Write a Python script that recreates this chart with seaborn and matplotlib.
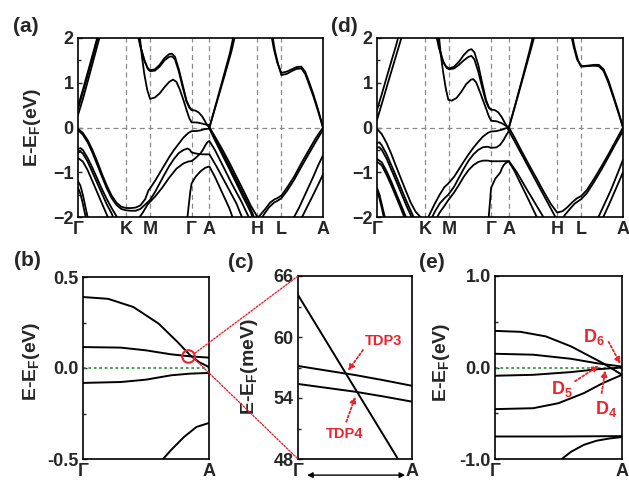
import numpy as np
import pandas as pd
import matplotlib
matplotlib.use("Agg")
import matplotlib.pyplot as plt
import seaborn as sns
from matplotlib.patches import ConnectionPatch

# ---------------- data ----------------
KPATH_LABELS = ["Γ", "K", "M", "Γ", "A", "H", "L", "A"]
KPATH_POS = [0.0, 1.0, 1.5, 2.366, 2.736, 3.736, 4.236, 5.102]
GA_START, GA_END = 2.366, 2.736

# panel (b): Gamma-A zoom (fraction along Gamma->A, eV)
b1_t = [0, 0.2, 0.4, 0.6, 0.75, 0.85, 0.92, 1.0]
b1_E = [0.39, 0.38, 0.335, 0.244, 0.143, 0.07, 0.033, 0.005]
b2_t = [0, 0.3, 0.5, 0.7, 0.85, 1.0]
b2_E = [0.115, 0.112, 0.097, 0.075, 0.064, 0.057]
b3_t = [0, 0.3, 0.5, 0.7, 0.85, 1.0]
b3_E = [-0.082, -0.077, -0.064, -0.04, -0.031, -0.027]
b4_t = [0.6, 0.635, 0.7, 0.8, 0.9, 1.0]
b4_E = [-0.54, -0.5, -0.45, -0.38, -0.324, -0.302]
CIRCLE_T, CIRCLE_E = 0.833, 0.066

# panel (c): meV
c1_t = [0, 0.877, 0.95]
c1_E = [64.13, 48.0, 46.7]
c2_t = [0, 0.25, 0.5, 0.75, 1.0]
c2_E = [57.15, 56.7, 56.26, 55.75, 55.2]
c3_t = [0, 0.25, 0.5, 0.75, 1.0]
c3_E = [55.38, 55.0, 54.62, 54.15, 53.64]

# panel (e): Gamma-A zoom of (d)
e1_t = [0, 0.2, 0.4, 0.6, 0.75, 0.85, 0.93, 1.0]
e1_E = [0.40, 0.39, 0.34, 0.23, 0.12, 0.047, -0.02, -0.08]
e2_t = [0, 0.3, 0.6, 0.8, 1.0]
e2_E = [0.15, 0.14, 0.095, 0.047, 0.01]
e3_t = [0, 0.3, 0.6, 0.8, 1.0]
e3_E = [-0.09, -0.08, -0.05, -0.02, 0.0]
e4_t = [0, 0.3, 0.5, 0.7, 0.85, 1.0]
e4_E = [-0.455, -0.445, -0.39, -0.28, -0.17, -0.08]
e5_t = [0, 0.5, 1.0]
e5_E = [-0.754, -0.754, -0.75]
e6_t = [0.5, 0.526, 0.6, 0.7, 0.8, 0.9, 1.0]
e6_E = [-1.05, -1.0, -0.92, -0.845, -0.8, -0.776, -0.76]


def ga(t, E):
    return [(GA_START + ti * (GA_END - GA_START), Ei) for ti, Ei in zip(t, E)]


# panel (a) bands (k, eV)
a_c1 = [(0, 0.42), (0.1, 0.78), (0.2, 1.16), (0.3, 1.55), (0.4, 1.95), (0.43, 2.1)]
a_c2 = [(0, 0.28), (0.1, 0.63), (0.2, 1.02), (0.3, 1.42), (0.4, 1.82), (0.47, 2.1)]
a_c3 = [(0, 0.47), (0.1, 0.84), (0.2, 1.22), (0.3, 1.61), (0.4, 2.0), (0.42, 2.1)]
a_c4 = [(1.24, 2.1), (1.3, 1.8), (1.38, 1.5), (1.45, 1.33), (1.5, 1.28), (1.6, 1.3),
        (1.7, 1.4), (1.8, 1.55), (1.9, 1.64), (1.96, 1.65), (2.02, 1.58), (2.1, 1.3),
        (2.18, 0.95), (2.26, 0.6), (2.32, 0.46)] + ga(b1_t, b1_E)
a_c5 = [(1.25, 2.1), (1.31, 1.78), (1.39, 1.48), (1.46, 1.3), (1.5, 1.26), (1.6, 1.27),
        (1.7, 1.36), (1.8, 1.5), (1.9, 1.58), (1.96, 1.59), (2.02, 1.52), (2.1, 1.25),
        (2.18, 0.9), (2.26, 0.58), (2.32, 0.44), (2.366, 0.39)]
a_c6 = [(1.28, 2.1), (1.33, 1.6), (1.38, 1.2), (1.44, 0.85), (1.5, 0.64), (1.6, 0.67),
        (1.7, 0.76), (1.8, 0.9), (1.9, 1.02), (1.98, 1.07), (2.05, 1.02), (2.12, 0.85),
        (2.2, 0.6), (2.27, 0.36), (2.32, 0.2)] + ga(b2_t, b2_E)
a_c7 = [(2.736, 0.0), (2.9, 0.6), (3.05, 1.15), (3.2, 1.72), (3.28, 2.1)]
a_c8 = [(2.736, 0.0), (2.88, 0.55), (3.02, 1.1), (3.16, 1.65), (3.25, 2.1)]
a_c9 = [(4.02, 2.1), (4.08, 1.75), (4.15, 1.45), (4.236, 1.22), (4.35, 1.25), (4.45, 1.3),
        (4.55, 1.35), (4.65, 1.36), (4.73, 1.25), (4.8, 1.05), (4.9, 0.75), (5.0, 0.4),
        (5.102, 0.0)]
a_c10 = [(4.04, 2.1), (4.1, 1.72), (4.17, 1.4), (4.236, 1.17), (4.35, 1.2), (4.45, 1.26),
         (4.55, 1.31), (4.65, 1.32), (4.73, 1.2), (4.8, 1.0), (4.9, 0.7), (5.0, 0.36),
         (5.102, 0.0)]
a_v1 = [(0, -0.03), (0.1, -0.12), (0.2, -0.28), (0.3, -0.5), (0.4, -0.76), (0.5, -1.04),
        (0.6, -1.3), (0.7, -1.52), (0.8, -1.68), (0.9, -1.77), (1.0, -1.8), (1.1, -1.8),
        (1.2, -1.79), (1.3, -1.74), (1.4, -1.6), (1.47, -1.4), (1.5, -1.36), (1.6, -1.2),
        (1.7, -1.02), (1.8, -0.84), (1.9, -0.66), (2.0, -0.5), (2.1, -0.36), (2.2, -0.22),
        (2.3, -0.12)] + ga(b3_t, b3_E) + [
        (2.85, -0.28), (3.0, -0.6), (3.15, -0.92), (3.3, -1.25), (3.45, -1.58),
        (3.6, -1.9), (3.66, -2.1)]
a_v2 = [(0, -0.06), (0.1, -0.16), (0.2, -0.33), (0.3, -0.56), (0.4, -0.83), (0.5, -1.1),
        (0.6, -1.36), (0.7, -1.58), (0.8, -1.73), (0.9, -1.82), (1.0, -1.85), (1.1, -1.86),
        (1.2, -1.86), (1.3, -1.82), (1.4, -1.72), (1.5, -1.62), (1.6, -1.45), (1.7, -1.25),
        (1.8, -1.05), (1.9, -0.86), (2.0, -0.7), (2.1, -0.57), (2.2, -0.5), (2.28, -0.47),
        (2.33, -0.5), (2.366, -0.56), (2.5, -0.59), (2.6, -0.6), (2.736, -0.6), (2.9, -0.9),
        (3.1, -1.3), (3.3, -1.7), (3.45, -2.1)]
a_v3 = [(1.22, -2.1), (1.35, -1.9), (1.45, -1.72), (1.5, -1.66), (1.6, -1.55), (1.75, -1.35),
        (1.9, -1.12), (2.05, -0.92), (2.2, -0.8), (2.3, -0.76), (2.366, -0.75), (2.45, -0.68),
        (2.55, -0.58)] + ga(b4_t[1:], b4_E[1:]) + [
        (2.85, -0.5), (3.0, -0.82), (3.2, -1.25), (3.4, -1.65), (3.6, -2.1)]
a_v4 = [(2.27, -2.1), (2.31, -1.7), (2.34, -1.42), (2.366, -1.25), (2.45, -1.1), (2.55, -0.98),
        (2.65, -0.9), (2.736, -0.87), (2.85, -1.1), (3.0, -1.45), (3.15, -1.8), (3.25, -2.1)]
a_v5 = [(2.736, 0.0), (2.85, -0.2), (3.0, -0.48), (3.15, -0.78), (3.3, -1.1), (3.45, -1.42),
        (3.6, -1.75), (3.736, -2.0), (3.76, -2.1)]
a_v6 = [(2.736, 0.0), (2.85, -0.24), (3.0, -0.55), (3.15, -0.86), (3.3, -1.18), (3.45, -1.5),
        (3.6, -1.83), (3.7, -2.1)]
a_v8 = [(3.736, -2.02), (3.8, -1.95), (3.9, -1.82), (4.0, -1.68), (4.1, -1.6), (4.15, -1.58),
        (4.236, -1.52), (4.35, -1.35), (4.5, -1.1), (4.65, -0.8), (4.8, -0.52), (4.95, -0.24),
        (5.102, 0.0)]
a_v9 = [(3.78, -2.1), (3.88, -1.93), (3.98, -1.78), (4.08, -1.68), (4.15, -1.64), (4.236, -1.58),
        (4.35, -1.42), (4.5, -1.17), (4.65, -0.88), (4.8, -0.6), (4.95, -0.32), (5.102, -0.05)]
a_v10 = [(4.45, -2.1), (4.6, -1.8), (4.75, -1.45), (4.9, -1.1), (5.0, -0.85), (5.102, -0.62)]
a_v11 = [(4.62, -2.1), (4.75, -1.82), (4.9, -1.5), (5.0, -1.28), (5.102, -1.05)]
a_v12 = [(0, -0.48), (0.05, -0.46), (0.1, -0.5), (0.2, -0.68), (0.3, -0.9), (0.4, -1.14),
         (0.5, -1.38), (0.6, -1.6), (0.7, -1.8), (0.8, -1.98), (0.85, -2.1)]
a_v13 = [(0, -0.56), (0.05, -0.54), (0.1, -0.58), (0.2, -0.76), (0.3, -1.0), (0.4, -1.24),
         (0.5, -1.48), (0.6, -1.72), (0.7, -1.92), (0.77, -2.1)]
a_v14 = [(0, -0.68), (0.1, -0.76), (0.2, -0.95), (0.3, -1.2), (0.4, -1.45), (0.5, -1.7),
         (0.6, -1.95), (0.66, -2.1)]
a_v15 = [(0, -1.2), (0.05, -1.3), (0.1, -1.5), (0.15, -1.75), (0.2, -2.0), (0.22, -2.1)]
a_v16 = [(0, -1.35), (0.05, -1.48), (0.1, -1.7), (0.15, -1.95), (0.17, -2.1)]

# panel (d) bands
d_c1 = [(0, 0.39), (0.1, 0.75), (0.2, 1.12), (0.3, 1.49), (0.4, 1.85), (0.46, 2.1)]
d_c2 = [(0, 0.17), (0.1, 0.53), (0.2, 0.9), (0.3, 1.26), (0.4, 1.62), (0.5, 1.98), (0.53, 2.1)]
d_c4 = [(1.22, 2.1), (1.28, 1.8), (1.36, 1.5), (1.43, 1.36), (1.5, 1.32), (1.6, 1.36),
        (1.7, 1.47), (1.8, 1.62), (1.9, 1.73), (1.96, 1.75), (2.02, 1.68), (2.1, 1.4),
        (2.18, 1.0), (2.26, 0.62), (2.32, 0.45)] + ga(e1_t, e1_E)
d_c5 = [(1.24, 2.1), (1.3, 1.75), (1.38, 1.45), (1.45, 1.33), (1.5, 1.3), (1.6, 1.32),
        (1.7, 1.4), (1.8, 1.5), (1.9, 1.58), (1.96, 1.6), (2.02, 1.52), (2.1, 1.25),
        (2.18, 0.9), (2.26, 0.58), (2.32, 0.44), (2.366, 0.4)]
d_c6 = [(1.28, 2.1), (1.32, 1.65), (1.37, 1.25), (1.43, 0.85), (1.48, 0.62), (1.55, 0.6),
        (1.65, 0.66), (1.75, 0.8), (1.85, 0.97), (1.95, 1.07), (2.0, 1.08), (2.06, 1.0),
        (2.14, 0.78), (2.2, 0.6), (2.27, 0.4), (2.32, 0.25)] + ga(e2_t, e2_E)
d_c7 = [(2.736, 0.0), (2.9, 0.62), (3.05, 1.2), (3.2, 1.78), (3.28, 2.1)]
d_c8 = [(2.736, 0.0), (2.88, 0.56), (3.02, 1.12), (3.16, 1.7), (3.25, 2.1)]
d_c9 = [(4.02, 2.1), (4.08, 1.8), (4.15, 1.52), (4.236, 1.37), (4.35, 1.38), (4.5, 1.4),
        (4.6, 1.4), (4.7, 1.3), (4.8, 1.05), (4.9, 0.72), (5.0, 0.38), (5.102, 0.0)]
d_c10 = [(4.04, 2.1), (4.1, 1.78), (4.17, 1.5), (4.236, 1.36), (4.35, 1.37), (4.5, 1.38),
         (4.6, 1.37), (4.7, 1.26), (4.8, 1.0), (4.9, 0.68), (5.0, 0.35), (5.102, 0.0)]
d_v1 = [(0, -0.03), (0.1, -0.15), (0.2, -0.35), (0.3, -0.6), (0.4, -0.88), (0.5, -1.15),
        (0.6, -1.42), (0.7, -1.68), (0.8, -1.88), (0.9, -2.0), (0.95, -2.1)]
d_v2 = [(0, -0.35), (0.05, -0.33), (0.1, -0.4), (0.2, -0.6), (0.3, -0.85), (0.4, -1.1),
        (0.5, -1.36), (0.6, -1.62), (0.7, -1.86), (0.8, -2.1)]
d_v3 = [(0, -0.45), (0.05, -0.44), (0.1, -0.5), (0.2, -0.7), (0.3, -0.95), (0.4, -1.2),
        (0.5, -1.46), (0.6, -1.72), (0.7, -1.96), (0.75, -2.1)]
d_v4 = [(0, -0.7), (0.1, -0.78), (0.2, -0.98), (0.3, -1.22), (0.4, -1.48), (0.5, -1.74),
        (0.6, -2.0), (0.64, -2.1)]
d_v5 = [(0, -0.76), (0.1, -0.85), (0.2, -1.06), (0.3, -1.3), (0.4, -1.56), (0.5, -1.82),
        (0.6, -2.1)]
d_v6 = [(0, -1.35), (0.05, -1.5), (0.1, -1.72), (0.15, -1.95), (0.18, -2.1)]
d_v7 = [(0, -1.42), (0.05, -1.58), (0.1, -1.8), (0.14, -2.0), (0.16, -2.1)]
d_v8 = [(1.02, -2.1), (1.1, -1.92), (1.2, -1.7), (1.3, -1.5), (1.4, -1.33), (1.48, -1.25),
        (1.6, -1.1), (1.7, -0.93), (1.8, -0.76), (1.9, -0.6), (2.0, -0.45), (2.1, -0.32),
        (2.2, -0.2), (2.3, -0.12)] + ga(e3_t, e3_E)
d_v9 = [(1.1, -2.1), (1.2, -1.88), (1.3, -1.7), (1.4, -1.58), (1.48, -1.5), (1.6, -1.32),
        (1.7, -1.12), (1.8, -0.92), (1.9, -0.74), (2.0, -0.6), (2.1, -0.5), (2.2, -0.44),
        (2.3, -0.43)] + ga(e4_t, e4_E)
d_v10 = [(1.2, -2.1), (1.3, -1.9), (1.4, -1.75), (1.48, -1.62), (1.6, -1.45), (1.7, -1.28),
         (1.8, -1.1), (1.9, -0.95), (2.0, -0.84), (2.1, -0.77), (2.2, -0.74), (2.3, -0.74)] + \
    ga(e5_t, e5_E) + [(2.9, -1.0), (3.1, -1.37), (3.3, -1.73), (3.45, -2.0), (3.5, -2.1)]
d_v11 = [(2.31, -2.1), (2.34, -1.7), (2.366, -1.35), (2.45, -1.15)] + ga(e6_t[1:], e6_E[1:]) + [
    (2.85, -0.97), (3.0, -1.3), (3.15, -1.63), (3.3, -1.97), (3.36, -2.1)]
d_v12 = [(2.736, 0.0), (2.85, -0.22), (3.0, -0.53), (3.15, -0.83), (3.3, -1.12), (3.45, -1.42),
         (3.6, -1.7), (3.736, -1.9), (3.85, -1.87), (3.95, -1.78), (4.05, -1.67), (4.15, -1.58),
         (4.236, -1.53), (4.35, -1.4), (4.5, -1.15), (4.65, -0.88), (4.8, -0.6), (4.95, -0.3),
         (5.102, 0.0)]
d_v13 = [(2.736, -0.08), (2.85, -0.3), (3.0, -0.6), (3.15, -0.9), (3.3, -1.2), (3.45, -1.5),
         (3.6, -1.8), (3.7, -2.0), (3.75, -2.1)]
d_v14 = [(3.8, -2.1), (3.9, -1.95), (4.0, -1.82), (4.1, -1.7), (4.236, -1.6), (4.35, -1.47),
         (4.5, -1.22), (4.65, -0.95), (4.8, -0.66), (4.95, -0.36), (5.102, -0.08)]
d_v15 = [(4.55, -2.1), (4.7, -1.75), (4.85, -1.4), (5.0, -1.0), (5.102, -0.72)]
d_v16 = [(4.65, -2.1), (4.8, -1.75), (4.95, -1.38), (5.102, -1.0)]

A_BANDS = [a_c1, a_c2, a_c3, a_c4, a_c5, a_c6, a_c7, a_c8, a_c9, a_c10,
           a_v1, a_v2, a_v3, a_v4, a_v5, a_v6, a_v8, a_v9, a_v10, a_v11,
           a_v12, a_v13, a_v14, a_v15, a_v16]
D_BANDS = [d_c1, d_c2, d_c4, d_c5, d_c6, d_c7, d_c8, d_c9, d_c10,
           d_v1, d_v2, d_v3, d_v4, d_v5, d_v6, d_v7, d_v8, d_v9, d_v10, d_v11,
           d_v12, d_v13, d_v14, d_v15, d_v16]
B_BANDS = [list(zip(b1_t, b1_E)), list(zip(b2_t, b2_E)), list(zip(b3_t, b3_E)), list(zip(b4_t, b4_E))]
C_BANDS = [list(zip(c1_t, c1_E)), list(zip(c2_t, c2_E)), list(zip(c3_t, c3_E))]
E_BANDS = [list(zip(e1_t, e1_E)), list(zip(e2_t, e2_E)), list(zip(e3_t, e3_E)),
           list(zip(e4_t, e4_E)), list(zip(e5_t, e5_E)), list(zip(e6_t, e6_E))]

RED = "#e8242c"
GREEN = "#3a9a3a"
GRAY = "#8a8a8a"

# ---------------- style ----------------
sns.set_style("ticks")
plt.rcParams["font.family"] = ["Liberation Sans", "DejaVu Sans"]
plt.rcParams["font.weight"] = "bold"
plt.rcParams["mathtext.fontset"] = "custom"
plt.rcParams["mathtext.rm"] = "Liberation Sans:bold"
plt.rcParams["mathtext.bf"] = "Liberation Sans:bold"
plt.rcParams["mathtext.it"] = "Liberation Sans:bold"
plt.rcParams["axes.linewidth"] = 1.2

W, H = 629, 484
fig = plt.figure(figsize=(W / 100, H / 100), dpi=100)


def box(l, r, t, b):
    return [l / W, 1 - b / H, (r - l) / W, (b - t) / H]


ax_a = fig.add_axes(box(78, 323, 38, 217))
ax_d = fig.add_axes(box(377, 623, 38, 217))
ax_b = fig.add_axes(box(83, 209, 277, 459))
ax_c = fig.add_axes(box(298, 412, 276, 459))
ax_e = fig.add_axes(box(495, 622, 276, 459))


def frame(bands):
    rows = []
    for i, pts in enumerate(bands):
        for x, y in pts:
            rows.append({"band": i, "x": x, "y": y})
    return pd.DataFrame(rows)


def draw(ax, bands, lw):
    sns.lineplot(data=frame(bands), x="x", y="y", units="band", estimator=None,
                 sort=False, color="black", lw=lw, ax=ax, legend=False, zorder=3)
    ax.set_xlabel("")
    ax.set_ylabel("")


TICK_FS = 13
for ax, bands in [(ax_a, A_BANDS), (ax_d, D_BANDS)]:
    for p in KPATH_POS[1:-1]:
        ax.axvline(p, color=GRAY, ls=(0, (4, 3)), lw=0.9, zorder=1)
    ax.axhline(0, color=GRAY, ls=(0, (4, 3)), lw=0.9, zorder=1)
    draw(ax, bands, 1.3)
    ax.set_xlim(KPATH_POS[0], KPATH_POS[-1])
    ax.set_ylim(-2, 2)
    ax.set_xticks(KPATH_POS)
    ax.set_xticklabels(KPATH_LABELS)
    ax.set_yticks([-2, -1, 0, 1, 2])
    ax.set_yticks([-1.5, -0.5, 0.5, 1.5], minor=True)

ax_a.set_ylabel("E-E$_\\mathbf{F}$(eV)", fontsize=14, fontweight="bold")
ax_a.yaxis.set_label_coords(-0.142, 0.503)

# (b)
ax_b.axhline(0, color=GREEN, ls=(0, (1.5, 1.5)), lw=1.3, zorder=2)
draw(ax_b, B_BANDS, 1.4)
ax_b.plot([CIRCLE_T], [CIRCLE_E], marker="o", ms=9, mfc="none", mec=RED, mew=1.5, zorder=4)
ax_b.set_xlim(0, 1)
ax_b.set_ylim(-0.5, 0.5)
ax_b.set_xticks([0, 1])
ax_b.set_xticklabels(["Γ", "A"])
ax_b.set_yticks([-0.5, 0.0, 0.5])
ax_b.set_yticklabels(["-0.5", "0.0", "0.5"])
ax_b.set_yticks([-0.25, 0.25], minor=True)
ax_b.set_ylabel("E-E$_\\mathbf{F}$(eV)", fontsize=14, fontweight="bold")
ax_b.yaxis.set_label_coords(-0.325, 0.538)

# (c)
draw(ax_c, C_BANDS, 1.4)
ax_c.set_xlim(0, 1)
ax_c.set_ylim(48, 66)
ax_c.set_xticks([0, 1])
ax_c.set_xticklabels(["Γ", "A"])
ax_c.set_yticks([48, 54, 60, 66])
ax_c.set_yticks([51, 57, 63], minor=True)
ax_c.set_ylabel("E-E$_\\mathbf{F}$(meV)", fontsize=14, fontweight="bold")
ax_c.yaxis.set_label_coords(-0.333, 0.503)
ax_c.annotate("", xy=(0.94, -0.088), xytext=(0.08, -0.088), xycoords="axes fraction",
              arrowprops=dict(arrowstyle="<|-|>", color="black", lw=1.0, mutation_scale=8,
                              shrinkA=0, shrinkB=0), annotation_clip=False)
arrow_kw = dict(arrowstyle="-|>", color=RED, lw=1.3, ls=(0, (1.2, 1.2)), mutation_scale=9,
                shrinkA=0, shrinkB=0)
ax_c.annotate("TDP3", xy=(0.439, 56.69), xytext=(0.75, 59.6), color=RED, fontsize=10.5,
              fontweight="bold", ha="center", va="center")
ax_c.annotate("", xy=(0.439, 56.69), xytext=(0.57, 58.72), arrowprops=arrow_kw)
ax_c.annotate("TDP4", xy=(0.503, 54.13), xytext=(0.41, 50.5), color=RED, fontsize=10.5,
              fontweight="bold", ha="center", va="center")
ax_c.annotate("", xy=(0.503, 54.13), xytext=(0.424, 51.67), arrowprops=arrow_kw)

# (e)
ax_e.axhline(0, color=GREEN, ls=(0, (1.5, 1.5)), lw=1.3, zorder=2)
draw(ax_e, E_BANDS, 1.4)
ax_e.set_xlim(0, 1)
ax_e.set_ylim(-1, 1)
ax_e.set_xticks([0, 1])
ax_e.set_xticklabels(["Γ", "A"])
ax_e.set_yticks([-1, 0, 1])
ax_e.set_yticklabels(["-1.0", "0.0", "1.0"])
ax_e.set_yticks([-0.5, 0.5], minor=True)
ax_e.set_ylabel("E-E$_\\mathbf{F}$(eV)", fontsize=14, fontweight="bold")
ax_e.yaxis.set_label_coords(-0.339, 0.53)
for label, txt_pos, start, end in [
    ("$\\mathbf{D_6}$", (0.78, 0.33), (0.895, 0.28), (0.987, 0.04)),
    ("$\\mathbf{D_5}$", (0.53, -0.233), (0.63, -0.15), (0.816, 0.018)),
    ("$\\mathbf{D_4}$", (0.874, -0.45), (0.84, -0.28), (0.868, -0.03)),
]:
    ax_e.text(txt_pos[0], txt_pos[1], label, color=RED, fontsize=13, ha="center", va="center")
    ax_e.annotate("", xy=end, xytext=start, arrowprops=arrow_kw)

# common tick styling
for ax in [ax_a, ax_d, ax_b, ax_c, ax_e]:
    ax.tick_params(axis="x", length=0, pad=3, labelsize=TICK_FS)
    ax.tick_params(axis="y", which="major", direction="in", length=3, width=1.0,
                   pad=3, labelsize=TICK_FS)
    ax.tick_params(axis="y", which="minor", direction="in", length=2, width=1.0)
    for lab in ax.get_xticklabels() + ax.get_yticklabels():
        lab.set_fontweight("bold")
    for s in ax.spines.values():
        s.set_visible(True)
        s.set_linewidth(1.2)
        s.set_color("black")
        s.set_zorder(5)

# zoom connectors (b) -> (c)
con1 = ConnectionPatch(xyA=(0.889, 0.082), coordsA=ax_b.transData,
                       xyB=(0, 1), coordsB=ax_c.transAxes, color=RED, lw=1.0, ls=(0, (1.2, 1.2)))
con2 = ConnectionPatch(xyA=(0.873, 0.058), coordsA=ax_b.transData,
                       xyB=(0, 0), coordsB=ax_c.transAxes, color=RED, lw=1.0, ls=(0, (1.2, 1.2)))
fig.add_artist(con1)
fig.add_artist(con2)

# panel letters
for txt, x, y in [("(a)", 26, 27), ("(d)", 344, 27), ("(b)", 27, 261), ("(c)", 241, 262), ("(e)", 432, 262)]:
    fig.text(x / W, 1 - y / H, txt, fontsize=15, fontweight="bold", ha="center", va="center")

fig.savefig("out.png", dpi=100)
